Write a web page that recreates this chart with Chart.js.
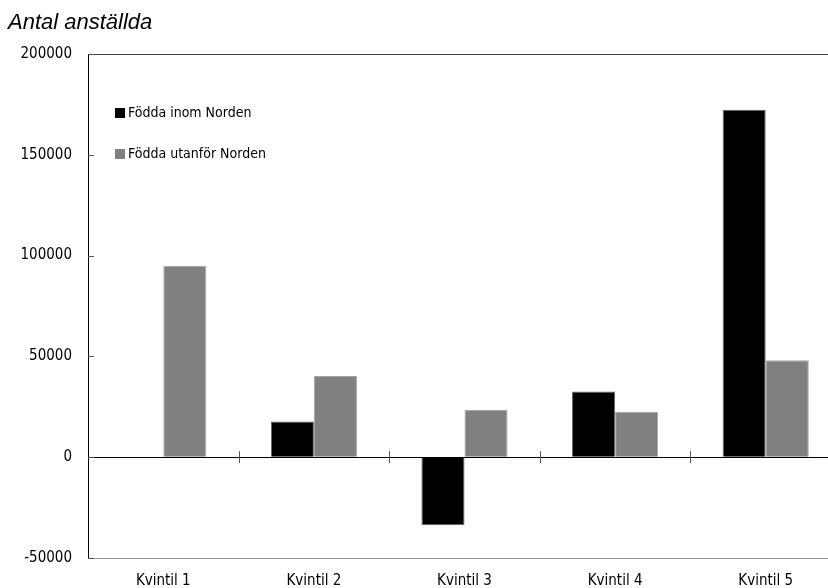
<!DOCTYPE html>
<html>
<head>
<meta charset="utf-8">
<script src="https://cdn.jsdelivr.net/npm/chart.js@4"></script>
<style>
    html, body { margin: 0; padding: 0; background: #fff; overflow: hidden; }
    #wrap { width: 845px; height: 588px; }
</style>
</head>
<body>
<div id="wrap"><canvas id="myChart" width="845" height="588"></canvas></div>
<script>
const categories = ['Kvintil 1', 'Kvintil 2', 'Kvintil 3', 'Kvintil 4', 'Kvintil 5'];
const inomNorden = [0, 17700, -33700, 32600, 172400];
const utanforNorden = [94950, 40300, 23500, 22500, 48100];
const yTicks = [-50000, 0, 50000, 100000, 150000, 200000];

const FONT = "'DejaVu Sans Condensed', 'Liberation Sans Narrow', sans-serif";

// titel, legend och små tickstreck ritas här
const extras = {
    id: 'extras',
    afterDraw(chart) {
        const { ctx, chartArea, scales } = chart;
        const y = scales.y, x = scales.x;
        ctx.save();

        ctx.font = "italic 22px 'Liberation Sans', Arial, sans-serif";
        ctx.fillStyle = '#000';
        ctx.textBaseline = 'middle';
        ctx.textAlign = 'left';
        ctx.fillText('Antal anställda', 8, 23);

        // inåtriktade tickstreck på y-axeln
        ctx.strokeStyle = '#555';
        ctx.lineWidth = 1;
        yTicks.forEach(v => {
            const py = Math.round(y.getPixelForValue(v)) + 0.5;
            ctx.beginPath();
            ctx.moveTo(chartArea.left, py);
            ctx.lineTo(chartArea.left + 6, py);
            ctx.stroke();
        });

        // kategorigränser vid nollinjen
        const y0 = y.getPixelForValue(0);
        for (let i = 0; i < categories.length - 1; i++) {
            const px = Math.round((x.getPixelForValue(i) + x.getPixelForValue(i + 1)) / 2) + 0.5;
            ctx.beginPath();
            ctx.moveTo(px, y0 - 6);
            ctx.lineTo(px, y0 + 6);
            ctx.stroke();
        }

        // legend
        ctx.font = '14px ' + FONT;
        chart.data.datasets.forEach((ds, i) => {
            const ly = 113 + i * 41;
            ctx.fillStyle = ds.backgroundColor;
            ctx.fillRect(115, ly - 5, 10, 10);
            ctx.fillStyle = '#000';
            ctx.fillText(ds.label, 128, ly);
        });
        ctx.restore();
    }
};

new Chart(document.getElementById('myChart').getContext('2d'), {
    type: 'bar',
    data: {
        labels: categories,
        datasets: [
            {
                label: 'Födda inom Norden',
                data: inomNorden,
                backgroundColor: '#000000',
                borderColor: '#666666',
                borderWidth: 1,
                categoryPercentage: 0.572,
                barPercentage: 1
            },
            {
                label: 'Födda utanför Norden',
                data: utanforNorden,
                backgroundColor: '#808080',
                borderColor: '#a6a6a6',
                borderWidth: 1,
                categoryPercentage: 0.572,
                barPercentage: 1
            }
        ]
    },
    options: {
        responsive: false,
        animation: false,
        layout: { padding: { top: 54, right: 4, left: 0, bottom: 0 } },
        plugins: {
            legend: { display: false },
            title: { display: false },
            tooltip: { enabled: false }
        },
        scales: {
            x: {
                grid: { display: false, drawTicks: false },
                border: { display: true, color: '#999999', width: 1 },
                ticks: {
                    color: '#000',
                    font: { family: FONT, size: 15 },
                    padding: 14,
                    maxRotation: 0
                },
                afterFit(scale) { scale.height = 30; }
            },
            y: {
                min: -50000,
                max: 200000,
                afterBuildTicks(scale) { scale.ticks = yTicks.map(v => ({ value: v })); },
                grid: {
                    drawTicks: false,
                    color: ctx => ctx.tick.value === 0 ? '#000' : (ctx.tick.value === 200000 ? '#444' : 'rgba(0,0,0,0)')
                },
                border: { display: true, color: '#000', width: 1 },
                ticks: {
                    color: '#000',
                    font: { family: FONT, size: 15 },
                    padding: 16,
                    callback: v => String(v)
                },
                afterFit(scale) { scale.width = 88; }
            }
        }
    },
    plugins: [extras]
});
</script>
</body>
</html>
